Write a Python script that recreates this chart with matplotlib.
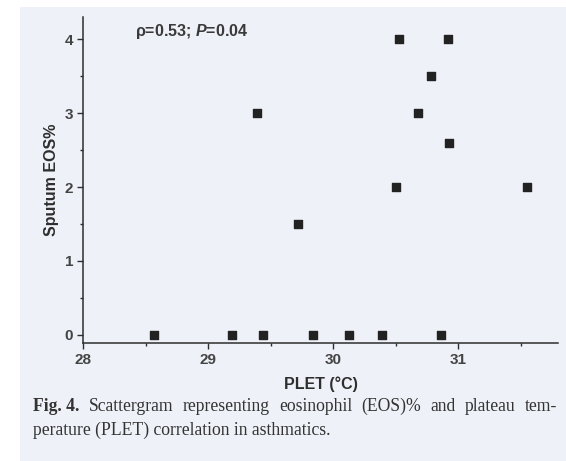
import numpy as np
import matplotlib
matplotlib.use('Agg')
import matplotlib.pyplot as plt
from matplotlib.ticker import MultipleLocator
from matplotlib.patches import Rectangle

# data
plet = [28.57, 29.19, 29.44, 29.84, 30.13, 30.39, 30.86,
        29.39, 29.72, 30.50, 30.53, 30.68, 30.78, 30.92, 30.93, 31.55]
eos = [0, 0, 0, 0, 0, 0, 0,
       3, 1.5, 2, 4, 3, 3.5, 4, 2.6, 2]
xticks = [28, 29, 30, 31]
yticks = [0, 1, 2, 3, 4]
caption1 = ['Fig. 4.', 'Scattergram', 'representing', 'eosinophil', '(EOS)%', 'and',
            'plateau', 'tem-']
caption2 = 'perature (PLET) correlation in asthmatics.'

plt.rcParams['font.family'] = ['Liberation Sans', 'DejaVu Sans']
plt.rcParams['mathtext.fontset'] = 'custom'
plt.rcParams['mathtext.it'] = 'Liberation Sans:italic:bold'
plt.rcParams['mathtext.rm'] = 'Liberation Sans:bold'

bg = '#eef1f7'
ink = '#2e2e2e'

fig = plt.figure(figsize=(5.66, 4.61), dpi=100)
fig.patch.set_facecolor('white')
# scanned page panel
fig.patches.append(Rectangle((20 / 566, 0), 1, 1 - 7 / 461, transform=fig.transFigure,
                             facecolor=bg, edgecolor='none', zorder=-10))

ax = fig.add_axes([83 / 566, 118 / 461, (558 - 83) / 566, (444 - 118) / 461])
ax.set_facecolor(bg)
ax.scatter(plet, eos, marker='s', s=32, color='#222222', zorder=3)

ax.set_xlim(28, 31.8)
ax.set_ylim(-0.11, 4.3)
ax.set_xticks(xticks)
ax.set_yticks(yticks)
ax.xaxis.set_minor_locator(MultipleLocator(0.5))
ax.yaxis.set_minor_locator(MultipleLocator(0.5))
for s in ['top', 'right']:
    ax.spines[s].set_visible(False)
for s in ['left', 'bottom']:
    ax.spines[s].set_color(ink)
    ax.spines[s].set_linewidth(1.1)
ax.tick_params(which='major', direction='out', length=4, width=1, colors=ink,
               labelsize=11, pad=3)
ax.tick_params(which='minor', direction='out', length=2.5, width=1, colors=ink)
for lab in ax.get_xticklabels() + ax.get_yticklabels():
    lab.set_fontweight('bold')
    lab.set_color('#444444')

ax.set_xlabel('PLET (°C)', fontsize=11.5, fontweight='bold', color=ink, labelpad=7)
ax.set_ylabel('Sputum EOS%', fontsize=11.5, fontweight='bold', color=ink, labelpad=4)

ax.text(0.11, 0.955, r'ρ=0.53; $\mathit{P}$=0.04', transform=ax.transAxes,
        fontsize=11.5, fontweight='bold', color='#3a3a3a', ha='left', va='center')

# caption, first line justified word by word
serif = ['Liberation Serif', 'DejaVu Serif']
fig.canvas.draw()
r = fig.canvas.get_renderer()
x0, x1, y1 = 33, 557, 461 - 406
texts = []
for i, w in enumerate(caption1):
    t = fig.text(0, y1 / 461, w, fontsize=12.7, family=serif, color='#333333',
                 fontweight='bold' if i == 0 else 'normal', va='center')
    texts.append(t)
widths = [t.get_window_extent(r).width for t in texts]
gap = (x1 - x0 - sum(widths)) / (len(texts) - 1)
pos = x0
for t, w in zip(texts, widths):
    t.set_x(pos / 566)
    pos += w + gap
fig.text(x0 / 566, (461 - 430) / 461, caption2, fontsize=12.7, family=serif,
         color='#333333', va='center')

fig.savefig('out.png', dpi=100, facecolor=fig.get_facecolor())
